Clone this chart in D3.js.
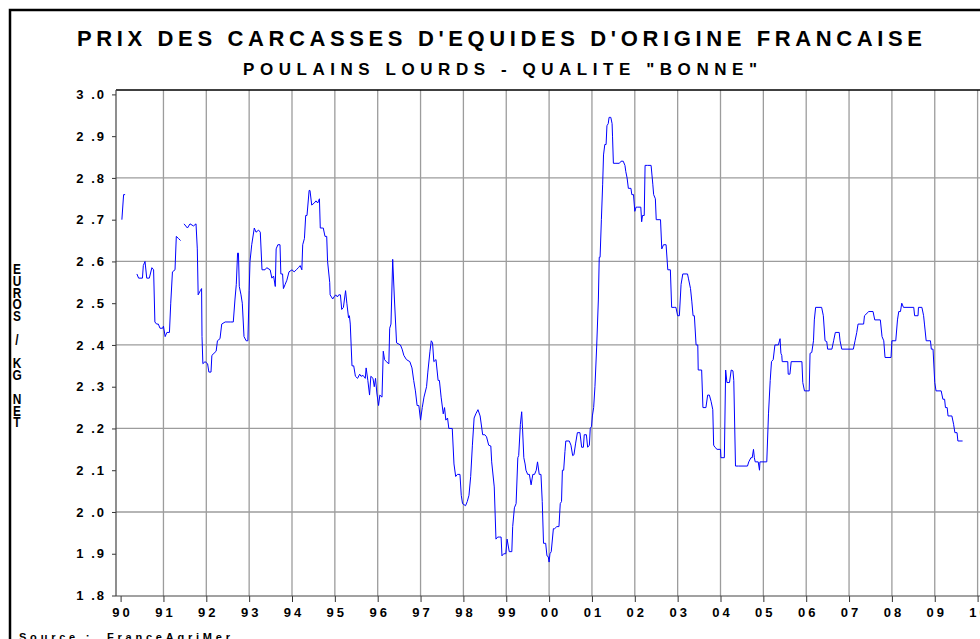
<!DOCTYPE html>
<html>
<head>
<meta charset="utf-8">
<script src="https://cdn.jsdelivr.net/npm/d3@7"></script>
<style>
  body { margin: 0; background: #fff; }
  svg { display: block; }
  text { font-family: "Liberation Sans", Arial, sans-serif; font-weight: bold; fill: #000; }
</style>
</head>
<body>
<script>
// tick labels
const yearLabels = ["90","91","92","93","94","95","96","97","98","99","00","01","02","03","04","05","06","07","08","09","10"]
const yTicks = [1.8,1.9,2.0,2.1,2.2,2.3,2.4,2.5,2.6,2.7,2.8,2.9,3.0]
const yGrid = [2.0,2.2,2.4,2.6,2.8]

// weekly prices (decimal year, euros / kg net); null = gap
const dates = [
  1990.03,1990.07,1990.105,1990.2,
  1990.38,1990.42,1990.51,1990.53,1990.57,1990.61,1990.67,1990.73,1990.77,1990.80,1990.84,1990.88,1990.92,1990.98,
  1991.00,1991.04,1991.08,1991.14,1991.17,1991.21,1991.27,1991.30,1991.35,1991.40,1991.44,
  1991.48,1991.56,1991.62,1991.70,1991.76,1991.79,1991.81,1991.86,1991.89,1991.90,1991.92,1991.97,
  1992.03,1992.06,1992.11,1992.13,1992.23,1992.26,1992.32,1992.36,1992.44,1992.56,1992.63,1992.67,1992.70,1992.73,1992.75,1992.77,1992.81,1992.84,1992.88,1992.93,1992.97,
  1993.00,1993.02,1993.06,1993.12,1993.16,1993.22,1993.26,1993.30,1993.37,1993.41,1993.49,1993.53,1993.57,1993.61,1993.63,1993.67,1993.72,1993.74,1993.78,1993.80,1993.84,1993.88,1993.93,
  1994.00,1994.05,1994.10,1994.15,1994.19,1994.23,1994.25,1994.29,1994.32,1994.35,1994.40,1994.42,1994.46,1994.52,1994.56,1994.60,1994.64,1994.66,1994.71,1994.73,1994.77,1994.81,1994.83,1994.88,1994.89,1994.95,1994.98,
  1995.02,1995.06,1995.09,1995.13,1995.16,1995.20,1995.25,1995.28,1995.32,1995.34,1995.36,1995.40,1995.44,1995.48,1995.53,1995.58,1995.61,1995.66,1995.71,1995.73,1995.77,1995.81,1995.84,1995.89,1995.92,1995.95,1995.98,
  1996.02,1996.05,1996.10,1996.13,1996.16,1996.20,1996.26,1996.28,1996.31,1996.35,1996.39,1996.44,1996.53,1996.57,1996.61,1996.67,1996.75,1996.80,1996.84,1996.88,1996.92,1996.96,
  1997.00,1997.04,1997.08,1997.14,1997.17,1997.22,1997.25,1997.28,1997.31,1997.36,1997.41,1997.44,1997.48,1997.53,1997.56,1997.59,1997.63,1997.66,1997.74,1997.78,1997.82,1997.86,1997.92,1997.95,1997.98,
  1998.05,1998.09,1998.13,1998.17,1998.21,1998.25,1998.29,1998.34,1998.39,1998.45,1998.50,1998.54,1998.59,1998.64,1998.66,1998.72,1998.76,1998.80,1998.84,1998.88,1998.90,1998.94,1998.99,
  1999.02,1999.07,1999.13,1999.15,1999.19,1999.23,1999.27,1999.29,1999.33,1999.36,1999.38,1999.41,1999.44,1999.46,1999.50,1999.54,1999.58,1999.62,1999.66,1999.70,1999.73,1999.77,1999.81,1999.84,1999.87,1999.92,1999.95,1999.98,
  2000.00,2000.02,2000.05,2000.10,2000.13,2000.18,2000.23,2000.26,2000.29,2000.31,2000.34,2000.37,2000.39,2000.47,2000.51,2000.55,2000.58,2000.62,2000.66,2000.72,2000.76,2000.80,2000.82,2000.87,2000.90,2000.94,2000.96,2000.99,
  2001.01,2001.04,2001.07,2001.11,2001.15,2001.17,2001.19,2001.22,2001.25,2001.27,2001.30,2001.33,2001.35,2001.38,2001.40,2001.44,2001.47,2001.48,2001.50,2001.56,2001.64,2001.68,2001.73,2001.77,2001.79,2001.82,2001.85,2001.91,2001.93,2001.97,
  2002.00,2002.03,2002.07,2002.14,2002.16,2002.18,2002.22,2002.24,2002.30,2002.38,2002.42,2002.44,2002.48,2002.50,2002.60,2002.63,2002.67,2002.73,2002.77,2002.83,2002.86,2002.92,2002.96,
  2003.00,2003.04,2003.08,2003.12,2003.23,2003.25,2003.30,2003.33,2003.36,2003.39,2003.43,2003.47,2003.48,2003.56,2003.59,2003.66,2003.70,2003.74,2003.78,2003.82,2003.84,2003.87,2003.92,
  2004.00,2004.01,2004.09,2004.12,2004.15,2004.21,2004.25,2004.29,2004.31,2004.35,2004.42,2004.63,2004.66,2004.71,2004.74,2004.77,2004.79,2004.81,2004.88,2004.91,2004.92,
  2005.08,2005.12,2005.16,2005.19,2005.23,2005.27,2005.35,2005.39,2005.41,2005.43,2005.44,2005.57,2005.58,2005.62,2005.65,2005.90,2005.92,2005.96,
  2006.07,2006.09,2006.13,2006.17,2006.19,2006.22,2006.36,2006.40,2006.44,2006.48,2006.50,2006.60,2006.64,2006.68,2006.77,2006.79,2006.83,
  2007.10,2007.14,2007.18,2007.21,2007.34,2007.36,2007.46,2007.56,2007.60,2007.73,2007.77,2007.81,2007.84,2007.98,
  2008.00,2008.09,2008.13,2008.16,2008.20,2008.23,2008.27,2008.51,2008.53,2008.61,2008.62,2008.70,2008.74,2008.76,2008.80,2008.90,2008.92,2008.96,
  2009.00,2009.03,2009.15,2009.19,2009.23,2009.25,2009.29,2009.31,2009.40,2009.44,2009.47,2009.52,2009.54,2009.65
]
const prices = [
  2.70,2.76,2.76,null,
  2.57,2.56,2.56,2.59,2.60,2.56,2.56,2.585,2.58,2.455,2.45,2.45,2.44,2.44,
  2.445,2.42,2.43,2.43,2.50,2.575,2.58,2.66,2.655,2.65,null,
  2.69,2.68,2.69,2.685,2.69,2.63,2.52,2.53,2.535,2.42,2.355,2.36,
  2.355,2.335,2.335,2.375,2.385,2.41,2.415,2.45,2.455,2.455,2.455,2.51,2.545,2.62,2.62,2.54,2.52,2.50,2.42,2.41,2.41,
  2.53,2.60,2.64,2.68,2.67,2.675,2.67,2.58,2.58,2.585,2.58,2.56,2.565,2.54,2.63,2.64,2.64,2.57,2.57,2.535,2.545,2.555,2.575,
  2.58,2.575,2.58,2.585,2.59,2.58,2.64,2.655,2.71,2.71,2.77,2.77,2.735,2.74,2.745,2.74,2.75,2.68,2.68,2.68,2.66,2.66,2.60,2.55,2.52,2.51,2.515,
  2.52,2.515,2.52,2.52,2.485,2.49,2.53,2.50,2.465,2.47,2.45,2.35,2.35,2.325,2.32,2.33,2.325,2.327,2.32,2.345,2.315,2.28,2.325,2.32,2.30,2.32,2.285,
  2.255,2.28,2.275,2.385,2.365,2.36,2.355,2.44,2.45,2.605,2.51,2.405,2.40,2.39,2.375,2.365,2.36,2.345,2.315,2.29,2.255,2.255,
  2.22,2.25,2.275,2.30,2.335,2.385,2.41,2.405,2.36,2.365,2.315,2.315,2.275,2.235,2.25,2.22,2.225,2.20,2.20,2.115,2.085,2.09,2.09,2.04,2.02,
  2.015,2.025,2.04,2.085,2.16,2.225,2.235,2.245,2.23,2.185,2.185,2.18,2.16,2.158,2.12,2.06,1.935,1.94,1.94,1.94,1.895,1.90,1.90,
  1.935,1.905,1.905,1.965,2.01,2.02,2.13,2.135,2.21,2.24,2.20,2.13,2.115,2.10,2.09,2.09,2.065,2.09,2.09,2.10,2.12,2.09,2.09,2.025,1.925,1.925,1.895,1.893,
  1.88,1.90,1.905,1.96,1.96,1.965,1.965,2.02,2.025,2.10,2.10,2.145,2.17,2.17,2.16,2.135,2.137,2.165,2.19,2.19,2.155,2.155,2.185,2.185,2.155,2.16,2.20,2.205,
  2.23,2.25,2.30,2.395,2.51,2.61,2.61,2.70,2.785,2.855,2.88,2.88,2.925,2.93,2.945,2.945,2.93,2.90,2.835,2.835,2.835,2.84,2.84,2.83,2.815,2.80,2.775,2.775,2.76,2.76,
  2.72,2.73,2.73,2.73,2.695,2.71,2.71,2.83,2.83,2.83,2.785,2.76,2.75,2.70,2.70,2.63,2.64,2.64,2.58,2.58,2.49,2.49,2.49,
  2.47,2.47,2.545,2.57,2.57,2.56,2.535,2.505,2.47,2.47,2.40,2.40,2.34,2.34,2.25,2.25,2.28,2.28,2.265,2.245,2.16,2.155,2.15,
  2.15,2.13,2.13,2.34,2.31,2.31,2.34,2.338,2.315,2.11,2.11,2.11,2.12,2.13,2.13,2.15,2.13,2.12,2.12,2.10,2.12,
  2.12,2.235,2.315,2.36,2.365,2.40,2.40,2.415,2.38,2.375,2.36,2.36,2.33,2.33,2.36,2.36,2.31,2.29,
  2.29,2.38,2.382,2.41,2.46,2.49,2.49,2.47,2.41,2.408,2.39,2.39,2.41,2.43,2.43,2.41,2.39,
  2.39,2.41,2.43,2.45,2.45,2.47,2.48,2.48,2.46,2.46,2.42,2.41,2.37,2.37,
  2.41,2.41,2.46,2.48,2.48,2.50,2.49,2.49,2.47,2.47,2.49,2.49,2.47,2.45,2.41,2.41,2.39,2.39,
  2.31,2.29,2.29,2.27,2.27,2.25,2.25,2.23,2.23,2.21,2.19,2.19,2.17,2.17
]

const width = 980
const height = 639
const plotLeft = 116
const plotTop = 90
const plotBottom = 596

const svg = d3.select('body').append('svg')
  .attr('width', width)
  .attr('height', height)

svg.append('rect').attr('width', width).attr('height', height).attr('fill', '#fff')

const x = d3.scaleLinear().domain([1990, 2010]).range([120.6, 977.6])
const y = d3.scaleLinear().domain([1.8, 3.0]).range([595.5, 94.4])

// outer frame (cropped on the right and bottom)
svg.append('path')
  .attr('d', `M10,${height} V10 H${width}`)
  .attr('fill', 'none')
  .attr('stroke', '#000')
  .attr('stroke-width', 2.5)

// titles
svg.append('text')
  .attr('x', 77).attr('y', 46)
  .attr('textLength', 845).attr('lengthAdjust', 'spacing')
  .style('font-size', '22px')
  .text("PRIX DES CARCASSES D'EQUIDES D'ORIGINE FRANCAISE")

svg.append('text')
  .attr('x', 243).attr('y', 75)
  .attr('textLength', 514).attr('lengthAdjust', 'spacing')
  .style('font-size', '17px')
  .text('POULAINS LOURDS - QUALITE "BONNE"')

// grid
const years = d3.range(1990, 2011)
svg.append('g').selectAll('line').data(years.slice(1)).enter().append('line')
  .attr('x1', d => x(d)).attr('x2', d => x(d))
  .attr('y1', plotTop).attr('y2', plotBottom)
  .attr('stroke', '#9c9c9c').attr('stroke-width', 1.3)

svg.append('g').selectAll('line').data(yGrid).enter().append('line')
  .attr('x1', plotLeft).attr('x2', width)
  .attr('y1', d => y(d)).attr('y2', d => y(d))
  .attr('stroke', '#9c9c9c').attr('stroke-width', 1.3)

// axes
const xAxis = d3.axisBottom(x)
  .tickValues(years)
  .tickFormat((d, i) => yearLabels[i])
  .tickSize(6).tickSizeOuter(0).tickPadding(6)

svg.append('g')
  .attr('transform', `translate(0,${plotBottom})`)
  .call(xAxis)
  .call(g => g.select('.domain').remove())
  .call(g => g.selectAll('line').attr('stroke', '#333'))
  .call(g => g.selectAll('text')
    .style('font-size', '13px').style('font-family', '"Liberation Sans", Arial, sans-serif')
    .style('font-weight', 'bold').style('letter-spacing', '3px').attr('dx', '1.5px'))

const yAxis = d3.axisLeft(y)
  .tickValues(yTicks)
  .tickFormat(d => d.toFixed(1).replace('.', ' .'))
  .tickSize(4).tickSizeOuter(0).tickPadding(6)

svg.append('g')
  .attr('transform', `translate(${plotLeft},0)`)
  .call(yAxis)
  .call(g => g.select('.domain').remove())
  .call(g => g.selectAll('line').attr('stroke', '#333'))
  .call(g => g.selectAll('text')
    .style('font-size', '13px').style('font-family', '"Liberation Sans", Arial, sans-serif')
    .style('font-weight', 'bold').style('letter-spacing', '2px').style('white-space', 'pre'))

// plot borders
svg.append('line')
  .attr('x1', plotLeft).attr('x2', width).attr('y1', plotTop).attr('y2', plotTop)
  .attr('stroke', '#000').attr('stroke-width', 1.5)
svg.append('line')
  .attr('x1', plotLeft).attr('x2', plotLeft).attr('y1', plotTop).attr('y2', plotBottom)
  .attr('stroke', '#444').attr('stroke-width', 1.2)
svg.append('line')
  .attr('x1', plotLeft).attr('x2', width).attr('y1', plotBottom).attr('y2', plotBottom)
  .attr('stroke', '#444').attr('stroke-width', 1.2)

// price line
const series = dates.map((d, i) => [d, prices[i]])
const line = d3.line()
  .defined(d => d[1] != null)
  .x(d => x(d[0]))
  .y(d => y(d[1]))

svg.append('path')
  .datum(series)
  .attr('d', line)
  .attr('fill', 'none')
  .attr('stroke', '#0000ff')
  .attr('stroke-width', 1)

// y title, letters stacked and condensed
const yTitle = 'EUROS / KG NET'.split('')
svg.append('g')
  .attr('transform', 'translate(17,0) scale(0.85,1)')
  .selectAll('text').data(yTitle).enter().append('text')
  .attr('x', 0)
  .attr('y', (d, i) => 274 + i * 11.8)
  .attr('text-anchor', 'middle')
  .style('font-size', '14px')
  .text(d => d)

// source
svg.append('text')
  .attr('x', 19).attr('y', 641)
  .attr('textLength', 211).attr('lengthAdjust', 'spacing')
  .style('font-size', '11px').style('white-space', 'pre')
  .text('Source :  FranceAgriMer')
</script>
</body>
</html>
